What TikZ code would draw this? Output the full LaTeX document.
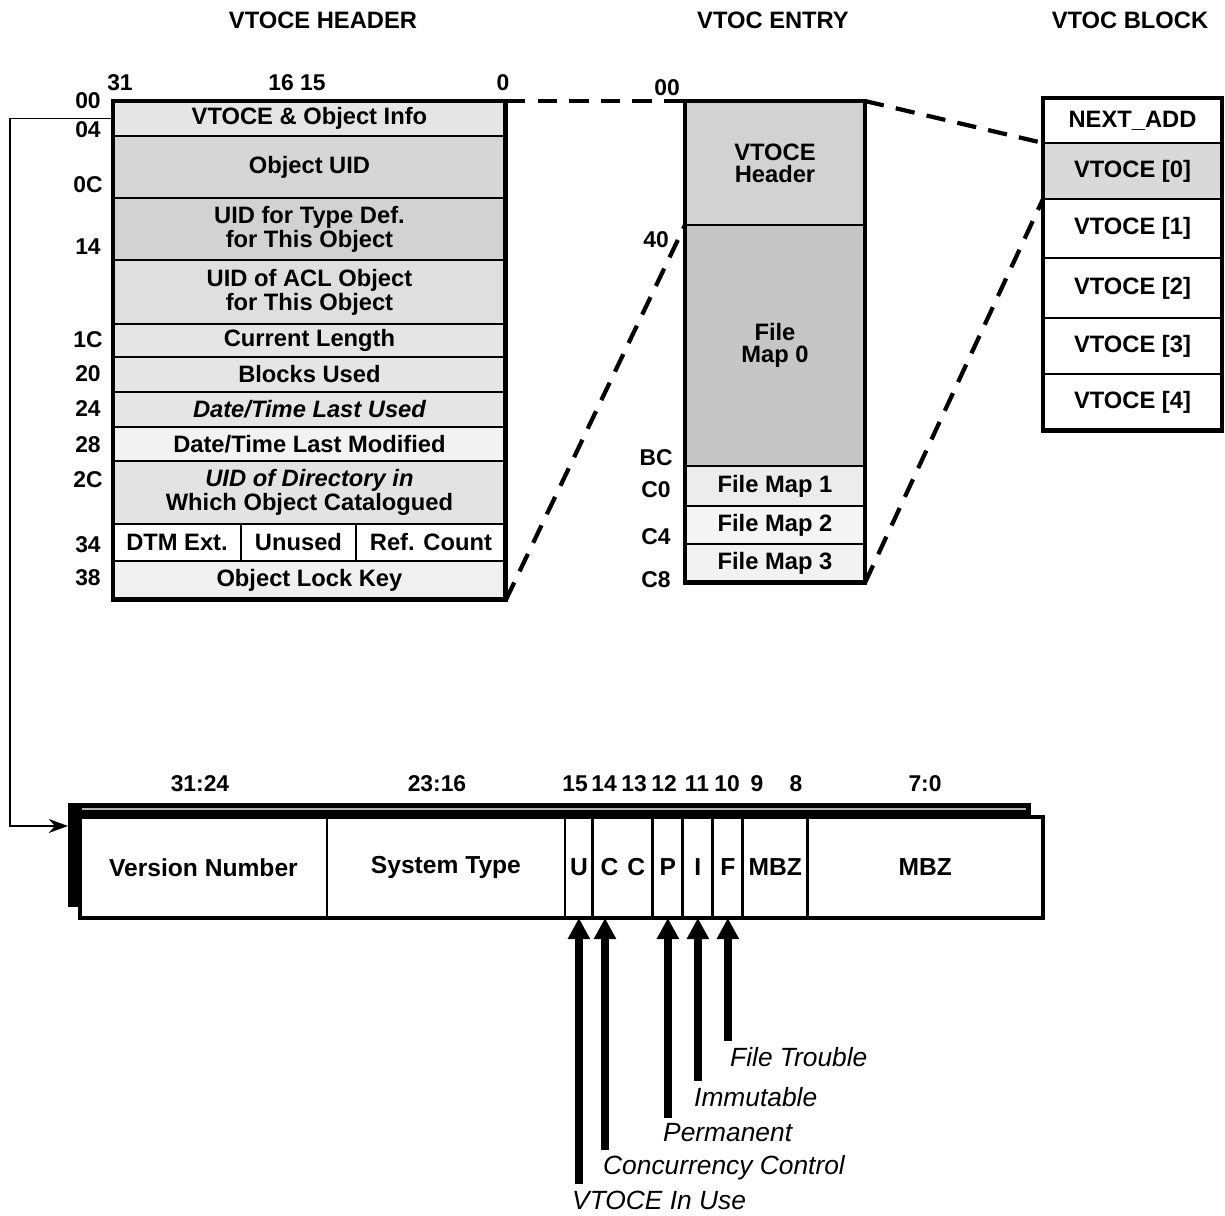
\documentclass[tikz,border=0pt]{standalone}
\usepackage{fontspec}
\setmainfont{Liberation Sans}
\usetikzlibrary{arrows.meta,positioning}

\tikzset{
  ttl/.style={font=\fontsize{13.5}{14}\selectfont\bfseries},
  offlbl/.style={font=\fontsize{13}{13}\selectfont\bfseries},
  hrow/.style={draw, line width=1.3pt, minimum width=7.86cm, inner sep=0pt, outer sep=0pt,
    align=center, font=\fontsize{13.5}{12.5}\selectfont\bfseries},
  erow/.style={hrow, minimum width=3.6cm},
  brow/.style={hrow, minimum width=3.58cm},
  fcell/.style={draw, fill=white, line width=1.6pt, minimum height=2.02cm, inner sep=0pt,
    outer sep=0pt, font=\fontsize{14}{14}\selectfont\bfseries},
  link/.style={line width=2.4pt, dash pattern=on 11pt off 7pt},
  conn/.style={line width=1pt, -{Stealth[length=11pt,width=8pt]}},
  bitarrow/.style={line width=4.5pt, -{Triangle[length=12pt,width=12pt]}},
  flag/.style={font=\fontsize{15}{15}\selectfont\itshape}
}

\begin{document}
\begin{tikzpicture}[x=0.02cm, y=-0.02cm]
\useasboundingbox (0,0) rectangle (1225,1216);

% titles
\node[ttl] (tHdr) at (323,20) {VTOCE HEADER};
\node[ttl] (tEnt) at (773,20) {VTOC ENTRY};
\node[ttl] (tBlk) at (1130,20) {VTOC BLOCK};

% VTOCE header
\node[offlbl] (h31) at (120,83) {31};
\node[offlbl] (h16) at (297,83) {16 15};
\node[offlbl] (h0) at (503,83) {0};
\node[hrow, fill=gray!20, minimum height=0.70cm, anchor=north west] (r00) at (113,101) {VTOCE \& Object Info};
\node[hrow, fill=gray!32, minimum height=1.24cm, below=0pt of r00] (r04) {Object UID};
\node[hrow, fill=gray!35, minimum height=1.24cm, below=0pt of r04] (r0C) {UID for Type Def.\\for This Object};
\node[hrow, fill=gray!25, minimum height=1.28cm, below=0pt of r0C] (r14) {UID of ACL Object\\for This Object};
\node[hrow, fill=gray!20, minimum height=0.66cm, below=0pt of r14] (r1C) {Current Length};
\node[hrow, fill=gray!20, minimum height=0.70cm, below=0pt of r1C] (r20) {Blocks Used};
\node[hrow, fill=gray!20, minimum height=0.70cm, below=0pt of r20] (r24) {\itshape Date/Time Last Used};
\node[hrow, fill=gray!10, minimum height=0.68cm, below=0pt of r24] (r28) {Date/Time Last Modified};
\node[hrow, fill=gray!22, minimum height=1.26cm, below=0pt of r28] (r2C) {\itshape UID of Directory in\\Which Object Catalogued};
\node[hrow, minimum width=2.56cm, minimum height=0.74cm, below=0pt of r2C.south west, anchor=north west] (r34a) {DTM Ext.};
\node[hrow, minimum width=2.30cm, minimum height=0.74cm, right=0pt of r34a] (r34b) {Unused};
\node[hrow, minimum width=3.00cm, minimum height=0.74cm, right=0pt of r34b] (r34c) {Ref. Count};
\node[hrow, fill=gray!12, minimum height=0.78cm, below=0pt of r34a.south west, anchor=north west] (r38) {Object Lock Key};
\draw[line width=2.8pt] (r00.north west) rectangle (r38.south east);

\node[offlbl] (o00) at (88,101) {00};
\node[offlbl] (o04) at (88,130) {04};
\node[offlbl] (o0C) at (88,185) {0C};
\node[offlbl] (o14) at (88,247) {14};
\node[offlbl] (o1C) at (88,340) {1C};
\node[offlbl] (o20) at (88,374) {20};
\node[offlbl] (o24) at (88,409) {24};
\node[offlbl] (o28) at (88,445) {28};
\node[offlbl] (o2C) at (88,480) {2C};
\node[offlbl] (o34) at (88,545) {34};
\node[offlbl] (o38) at (88,578) {38};

% VTOC entry
\node[erow, fill=gray!35, minimum height=2.48cm, anchor=north west] (eHdr) at (685,101) {VTOCE\\Header};
\node[erow, fill=gray!45, minimum height=4.82cm, below=0pt of eHdr] (eMap0) {File\\Map 0};
\node[erow, fill=gray!15, minimum height=0.80cm, below=0pt of eMap0] (eMap1) {File Map 1};
\node[erow, fill=gray!8, minimum height=0.76cm, below=0pt of eMap1] (eMap2) {File Map 2};
\node[erow, fill=gray!10, minimum height=0.78cm, below=0pt of eMap2] (eMap3) {File Map 3};
\draw[line width=2.8pt] (eHdr.north west) rectangle (eMap3.south east);

\node[offlbl] (e00) at (667,88) {00};
\node[offlbl] (e40) at (656,240) {40};
\node[offlbl] (eBC) at (656,458) {BC};
\node[offlbl] (eC0) at (656,490) {C0};
\node[offlbl] (eC4) at (656,537) {C4};
\node[offlbl] (eC8) at (656,580) {C8};

% VTOC block
\node[brow, minimum height=0.90cm, anchor=north west] (bNext) at (1043,98) {NEXT\_ADD};
\node[brow, fill=gray!30, minimum height=1.12cm, below=0pt of bNext] (b0) {VTOCE [0]};
\node[brow, minimum height=1.18cm, below=0pt of b0] (b1) {VTOCE [1]};
\node[brow, minimum height=1.20cm, below=0pt of b1] (b2) {VTOCE [2]};
\node[brow, minimum height=1.12cm, below=0pt of b2] (b3) {VTOCE [3]};
\node[brow, minimum height=1.14cm, below=0pt of b3] (b4) {VTOCE [4]};
\draw[line width=2.8pt] (bNext.north west) rectangle (b4.south east);

% zoom lines
\draw[link] (r00.north east) -- (eHdr.north west);
\draw[link] (r38.south east) -- (eMap0.north west);
\draw[link] (eHdr.north east) -- (b0.north west);
\draw[link] (eMap3.south east) -- (b0.south west);

% word 00 bit fields
\node[fill=black, minimum width=19.26cm, minimum height=2.08cm, inner sep=0pt, anchor=north west] (fShadow) at (68,803) {};
\draw[gray!60, line width=0.8pt] ([shift={(14,6)}]fShadow.north west) -- ([shift={(-6,6)}]fShadow.north east);
\node[fcell, minimum width=4.94cm, anchor=north west] (fVer) at (80,817) {Version Number};
\node[fcell, minimum width=4.76cm, right=0pt of fVer] (fSys) {System Type};
\node[fcell, minimum width=0.56cm, right=0pt of fSys] (fU) {U};
\node[fcell, minimum width=1.20cm, right=0pt of fU] (fCC) {C\hspace{5pt}C};
\node[fcell, minimum width=0.60cm, right=0pt of fCC] (fP) {P};
\node[fcell, minimum width=0.60cm, right=0pt of fP] (fI) {I};
\node[fcell, minimum width=0.60cm, right=0pt of fI] (fF) {F};
\node[fcell, minimum width=1.30cm, right=0pt of fF] (fMbz) {MBZ};
\node[fcell, minimum width=4.70cm, right=0pt of fMbz] (fLow) {MBZ};
\draw[line width=2pt] (fVer.north west) rectangle (fLow.south east);

\node[offlbl] (n3124) at (200,784) {31:24};
\node[offlbl] (n2316) at (437,784) {23:16};
\node[offlbl] (n15) at (575,784) {15};
\node[offlbl] (n14) at (604,784) {14};
\node[offlbl] (n13) at (634,784) {13};
\node[offlbl] (n12) at (664,784) {12};
\node[offlbl] (n11) at (697,784) {11};
\node[offlbl] (n10) at (727,784) {10};
\node[offlbl] (n9) at (757,784) {9};
\node[offlbl] (n8) at (796,784) {8};
\node[offlbl] (n70) at (925,784) {7:0};

\coordinate (bend) at (10,826);
\draw[conn] (r00.west) -| (bend) -- (fShadow.west |- bend);

% flag bits
\node[flag, anchor=west] (lTrb) at (724,1057) {File Trouble};
\node[flag, anchor=west] (lImm) at (688,1097) {Immutable};
\node[flag, anchor=west] (lPer) at (657,1133) {Permanent};
\node[flag, anchor=west] (lCon) at (597,1168) {Concurrency Control};
\node[flag, anchor=west] (lUse) at (566,1200) {VTOCE In Use};
\coordinate (b14) at (605,918);
\draw[bitarrow] (fU.south |- lUse.north) -- (fU.south);
\draw[bitarrow] (b14 |- lCon.north) -- (b14);
\draw[bitarrow] (fP.south |- lPer.north) -- (fP.south);
\draw[bitarrow] (fI.south |- lImm.north) -- (fI.south);
\draw[bitarrow] (fF.south |- lTrb.north) -- (fF.south);
\end{tikzpicture}
\end{document}
